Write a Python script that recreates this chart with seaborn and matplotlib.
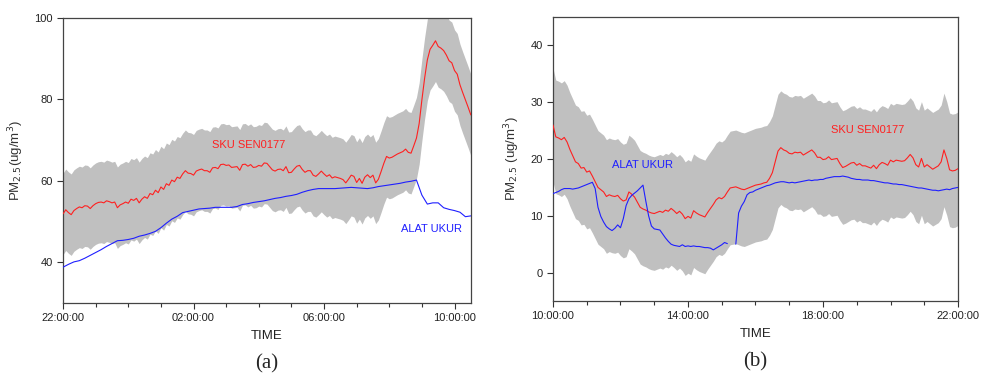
import numpy as np
import pandas as pd
import matplotlib
matplotlib.use("Agg")
import matplotlib.pyplot as plt
import matplotlib.dates as mdates
import seaborn as sns

# ---- panel (a): 22:00 -> 10:30
# sensor every 5 minutes
a_sensor = [51.9, 52.9, 52.2, 51.7, 52.7, 53.2, 53.6, 53.4, 53.9, 53.8,
            53.2, 53.9, 54.4, 54.7, 54.8, 54.6, 55.1, 54.9, 54.6, 54.8,
            53.4, 54.1, 54.4, 54.8, 54.5, 55.5, 55.2, 55.7, 54.6, 55.5,
            56.1, 55.7, 56.9, 56.6, 57.7, 57.1, 58.5, 57.9, 59.3, 58.9,
            60.2, 59.8, 60.9, 60.6, 61.7, 62.5, 61.9, 61.8, 61.4, 62.4,
            62.7, 62.9, 62.5, 62.5, 62.1, 63.2, 63.3, 63.0, 64.0, 64.1,
            63.8, 63.9, 63.3, 63.4, 63.5, 62.6, 64.0, 64.1, 63.6, 64.0,
            63.3, 63.4, 63.8, 63.6, 64.4, 64.3, 63.5, 62.7, 62.4, 62.8,
            62.9, 62.5, 63.5, 62.0, 62.1, 62.9, 63.6, 63.8, 62.8, 62.1,
            62.5, 62.5, 61.4, 61.1, 61.7, 62.4, 61.7, 61.1, 61.5, 60.7,
            61.0, 60.8, 60.6, 60.3, 59.5, 60.4, 61.4, 61.1, 59.6, 60.6,
            59.4, 60.9, 61.5, 60.8, 61.4, 59.5, 60.4, 62.3, 64.3, 66.0,
            65.6, 65.8, 66.2, 66.6, 66.9, 67.2, 67.8, 67.0, 66.8, 68.6,
            70.5, 74.1, 79.9, 85.2, 89.7, 92.3, 93.3, 94.4, 93.0, 92.6,
            92.0, 90.9, 89.5, 89.0, 87.1, 86.2, 83.6, 81.7, 79.9, 78.1,
            76.2]
# reference instrument every 10 minutes
a_ref = [38.8, 39.5, 40.1, 40.4, 41.0, 41.7, 42.4, 43.1, 43.9, 44.6,
         45.3, 45.4, 45.6, 45.9, 46.4, 46.7, 47.1, 47.6, 48.5, 49.6,
         50.6, 51.3, 52.2, 52.5, 52.8, 53.1, 53.2, 53.3, 53.5, 53.5,
         53.5, 53.5, 53.7, 54.2, 54.4, 54.7, 54.9, 55.1, 55.4, 55.7,
         55.9, 56.2, 56.4, 56.7, 57.2, 57.6, 57.9, 58.1, 58.1, 58.1,
         58.1, 58.2, 58.3, 58.4, 58.3, 58.2, 58.1, 58.3, 58.6, 58.8,
         59.0, 59.2, 59.4, 59.7, 59.9, 60.2, 56.5, 54.3, 54.6, 54.6,
         53.4, 53.0, 52.7, 52.3, 51.2, 51.4]

# ---- panel (b): 10:00 -> 22:00, both every 5 minutes
b_sensor = [26.0, 23.9, 23.7, 23.4, 23.8, 23.0, 21.7, 20.6, 19.5, 19.2,
            18.4, 18.5, 17.7, 17.9, 17.0, 16.0, 15.0, 14.6, 14.2, 13.4,
            13.7, 13.5, 13.4, 13.6, 13.0, 12.6, 12.8, 14.2, 13.8, 13.3,
            12.4, 11.5, 11.2, 11.0, 10.7, 10.5, 10.4, 10.6, 10.8, 10.6,
            11.0, 10.8, 11.3, 10.9, 10.4, 10.8, 10.3, 9.5, 9.9, 9.6,
            10.9, 10.5, 10.2, 10.0, 9.8, 10.6, 11.3, 12.0, 12.8, 13.2,
            13.0, 13.4, 14.2, 14.9, 15.0, 15.1, 14.9, 14.7, 14.6, 14.8,
            15.0, 15.2, 15.4, 15.5, 15.6, 15.8, 15.9, 16.6, 17.6, 19.5,
            21.4, 22.0, 21.6, 21.4, 21.0, 20.9, 21.2, 21.1, 21.2, 20.7,
            21.0, 21.3, 21.6, 21.1, 20.3, 20.3, 19.9, 20.0, 20.4, 19.9,
            20.0, 20.1, 19.2, 18.5, 18.7, 19.0, 19.3, 19.4, 18.9, 19.2,
            18.8, 18.8, 18.6, 18.4, 18.9, 18.3, 19.0, 19.4, 19.2, 18.9,
            19.8, 19.5, 19.8, 19.7, 19.6, 19.7, 20.2, 20.8, 20.2, 19.0,
            18.6, 20.1, 18.6, 19.0, 18.6, 18.2, 18.5, 18.8, 19.5, 21.6,
            20.1, 18.1, 17.9, 18.0, 18.3]
b_ref = [13.9, 14.1, 14.3, 14.6, 14.8, 14.8, 14.8, 14.7, 14.8, 14.9,
         15.1, 15.3, 15.5, 15.7, 15.9, 14.8, 11.5, 9.9, 8.9, 8.1,
         7.7, 7.4, 7.8, 8.4, 7.9, 9.5, 11.8, 13.0, 13.6, 14.0,
         14.4, 14.9, 15.4, 12.6, 10.0, 8.2, 7.7, 7.6, 7.5, 6.8,
         6.1, 5.5, 5.0, 4.8, 4.7, 4.6, 4.9, 4.6, 4.7, 4.6,
         4.7, 4.6, 4.6, 4.5, 4.4, 4.4, 4.3, 4.0, 4.3, 4.6,
         4.9, 5.3, 5.1, np.nan, np.nan, 5.0, 10.5, 11.7, 12.5, 13.7,
         14.1, 14.2, 14.5, 14.7, 14.9, 15.1, 15.3, 15.4, 15.6, 15.8,
         15.9, 16.0, 16.0, 15.9, 15.8, 15.9, 15.8, 15.9, 16.0, 16.1,
         16.2, 16.3, 16.2, 16.3, 16.3, 16.4, 16.4, 16.6, 16.7, 16.8,
         16.9, 16.9, 16.9, 17.0, 16.9, 16.8, 16.6, 16.5, 16.4, 16.4,
         16.3, 16.3, 16.3, 16.2, 16.2, 16.1, 16.0, 15.9, 15.8, 15.8,
         15.7, 15.6, 15.6, 15.5, 15.5, 15.4, 15.3, 15.2, 15.1, 15.0,
         14.9, 14.9, 14.8, 14.7, 14.6, 14.5, 14.5, 14.4, 14.5, 14.6,
         14.7, 14.6, 14.8, 14.9, 15.0]

sensor_tol = 10  # +/- ug/m3 band around the sensor reading

RED = "#ff2020"
BLUE = "#1f1fff"
BAND = "#c0c0c0"

sns.set_style("ticks")
plt.rcParams["font.family"] = ["Liberation Sans", "DejaVu Sans"]


def make_frame(start, step, values):
    t = pd.date_range(start, periods=len(values), freq=step)
    df = pd.DataFrame({"time": t, "pm": values})
    # split into pieces where the record has gaps
    df["seg"] = df["pm"].isna().cumsum()
    return df.dropna()


def draw_panel(ax, sensor, ref, start, ref_step, xlim, major_hours, ylim, yticks,
               ylabel, letter, sku_xy, alat_xy):
    s = make_frame(start, "5min", sensor)
    r = make_frame(start, ref_step, ref)
    ax.fill_between(s["time"], s["pm"] - sensor_tol, s["pm"] + sensor_tol,
                    color=BAND, lw=0, zorder=1)
    sns.lineplot(data=s, x="time", y="pm", ax=ax, color=RED, lw=0.8,
                 units="seg", estimator=None, zorder=3)
    sns.lineplot(data=r, x="time", y="pm", ax=ax, color=BLUE, lw=0.8,
                 units="seg", estimator=None, zorder=3)

    ax.set_xlim(pd.Timestamp(xlim[0]), pd.Timestamp(xlim[1]))
    ax.set_ylim(*ylim)
    ax.set_yticks(yticks)
    ax.xaxis.set_major_locator(mdates.HourLocator(byhour=major_hours))
    ax.xaxis.set_minor_locator(mdates.HourLocator())
    ax.xaxis.set_major_formatter(mdates.DateFormatter("%H:%M:%S"))
    ax.tick_params(axis="both", which="major", labelsize=8, length=4,
                   width=0.8, colors="#333333", labelcolor="#222222")
    ax.tick_params(axis="x", which="minor", length=3, width=0.8, colors="#333333")
    for sp in ax.spines.values():
        sp.set_color("#444444")
        sp.set_linewidth(0.9)

    ax.set_xlabel("TIME", fontsize=9.5, labelpad=5, color="#222222")
    ax.set_ylabel(ylabel, fontsize=9.5, labelpad=6, color="#333333")

    ax.text(pd.Timestamp(sku_xy[0]), sku_xy[1], "SKU SEN0177", color=RED,
            fontsize=8, ha="center", va="center")
    ax.text(pd.Timestamp(alat_xy[0]), alat_xy[1], "ALAT UKUR", color=BLUE,
            fontsize=8, ha="center", va="center")
    ax.text(0.5, -0.215, letter, transform=ax.transAxes, ha="center",
            va="center", fontsize=15, family="Liberation Serif")


fig = plt.figure(figsize=(9.85, 3.79), dpi=100)
ax_a = fig.add_axes([0.064, 0.2005, 0.414, 0.752])
ax_b = fig.add_axes([0.5614, 0.2058, 0.4112, 0.7493])

draw_panel(ax_a, a_sensor, a_ref, "2020-01-01 22:00", "10min",
           ("2020-01-01 22:00", "2020-01-02 10:30"), [22, 2, 6, 10],
           (30, 100), [40, 60, 80, 100], r"PM$_{2.5}$(ug/m$^3$)", "(a)",
           ("2020-01-02 03:42", 68.8), ("2020-01-02 09:18", 48.2))

draw_panel(ax_b, b_sensor, b_ref, "2020-01-02 10:00", "5min",
           ("2020-01-02 10:00", "2020-01-02 22:00"), [10, 14, 18, 22],
           (-5, 45), [0, 10, 20, 30, 40], r"PM$_{2.5}$ (ug/m$^3$)", "(b)",
           ("2020-01-02 19:20", 25.1), ("2020-01-02 12:40", 18.9))

fig.savefig("out.png", dpi=100)
